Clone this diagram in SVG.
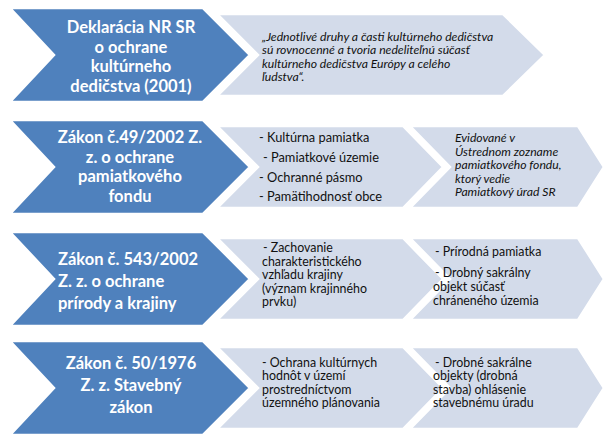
<svg xmlns="http://www.w3.org/2000/svg" width="605" height="435" viewBox="0 0 605 435">
<style>
.blue{fill:#4F81BD;stroke:#fff;stroke-width:2.5;stroke-linejoin:miter}
.light{fill:#D3DBEA;stroke:#fff;stroke-width:2.5;stroke-linejoin:miter}
.bt{font-family:Lato,"Liberation Sans",sans-serif;font-weight:bold;font-size:16.5px;fill:#fff}
.c{text-anchor:middle}
.t{font-family:Lato,"Liberation Sans",sans-serif;font-size:12.4px;fill:#111}
.t2{font-size:12.8px}
.i{font-style:italic;font-size:12.2px}
</style>
<rect width="605" height="435" fill="#fff"/>
<g id="row1">
  <g id="decl-detail">
    <path class="light" d="M217,14 L503,14 L545,55 L503,96 L217,96 L258,55 Z"/>
    <text class="t i"><tspan x="262" y="40.5">„Jednotlivé druhy a časti kultúrneho dedičstva</tspan><tspan x="262" y="54">sú rovnocenné a tvoria nedeliteľnú súčasť</tspan><tspan x="262" y="67.5">kultúrneho dedičstva Európy a celého</tspan><tspan x="262" y="81">ľudstva“.</tspan></text>
  </g>
  <g id="decl">
    <path class="blue" d="M10,8 L203,8 L250,55 L203,102 L10,102 L54,55 Z"/>
    <text class="bt c"><tspan x="131" y="33">Deklarácia NR SR</tspan><tspan x="131" y="52.5">o ochrane</tspan><tspan x="131" y="72">kultúrneho</tspan><tspan x="131" y="91.5">dedičstva (2001)</tspan></text>
  </g>
</g>
<g id="row2">
  <g id="z49-items">
    <path class="light" d="M217,126 L403,126 L443,167 L403,208 L217,208 L258,167 Z"/>
    <text class="t t2"><tspan x="259" y="142">- Kultúrna pamiatka</tspan><tspan x="263" y="162">- Pamiatkové územie</tspan><tspan x="259" y="182">- Ochranné pásmo</tspan><tspan x="259" y="201">- Pamätihodnosť obce</tspan></text>
  </g>
  <g id="z49-register">
    <path class="light" d="M410,126 L578,126 L604,167 L578,208 L410,208 L450,167 Z"/>
    <text class="t i"><tspan x="455" y="142">Evidované v</tspan><tspan x="455" y="155.5">Ústrednom zozname</tspan><tspan x="455" y="169">pamiatkového fondu,</tspan><tspan x="455" y="182.5">ktorý vedie</tspan><tspan x="455" y="196">Pamiatkový úrad SR</tspan></text>
  </g>
  <g id="z49">
    <path class="blue" d="M10,120 L203,120 L250,167 L203,214 L10,214 L54,167 Z"/>
    <text class="bt c"><tspan x="130" y="143">Zákon č.49/2002 Z.</tspan><tspan x="130" y="163">z. o ochrane</tspan><tspan x="130" y="182">pamiatkového</tspan><tspan x="130" y="202">fondu</tspan></text>
  </g>
</g>
<g id="row3">
  <g id="z543-landscape">
    <path class="light" d="M217,238 L403,238 L443,279 L403,320 L217,320 L258,279 Z"/>
    <text class="t"><tspan x="263" y="252">- Zachovanie</tspan><tspan x="262" y="265.5">charakteristického</tspan><tspan x="262" y="279">vzhľadu krajiny</tspan><tspan x="262" y="292.5">(význam krajinného</tspan><tspan x="262" y="306">prvku)</tspan></text>
  </g>
  <g id="z543-objects">
    <path class="light" d="M410,238 L578,238 L604,279 L578,320 L410,320 L450,279 Z"/>
    <text class="t"><tspan x="435" y="256">- Prírodná pamiatka</tspan><tspan x="435" y="277">- Drobný sakrálny</tspan><tspan x="433" y="291">objekt súčasť</tspan><tspan x="433" y="305">chráneného územia</tspan></text>
  </g>
  <g id="z543">
    <path class="blue" d="M10,232 L203,232 L250,279 L203,326 L10,326 L54,279 Z"/>
    <text class="bt"><tspan x="58" y="265">Zákon č. 543/2002</tspan><tspan x="58" y="287">Z. z. o ochrane</tspan><tspan x="58" y="309">prírody a krajiny</tspan></text>
  </g>
</g>
<g id="row4">
  <g id="z50-planning">
    <path class="light" d="M217,347 L403,347 L443,388 L403,429 L217,429 L258,388 Z"/>
    <text class="t"><tspan x="262" y="366.5">- Ochrana kultúrnych</tspan><tspan x="262" y="380">hodnôt v území</tspan><tspan x="262" y="393.5">prostredníctvom</tspan><tspan x="262" y="407">územného plánovania</tspan></text>
  </g>
  <g id="z50-notice">
    <path class="light" d="M410,347 L578,347 L604,388 L578,429 L410,429 L450,388 Z"/>
    <text class="t"><tspan x="435" y="366.5">- Drobné sakrálne</tspan><tspan x="433" y="380">objekty (drobná</tspan><tspan x="433" y="393.5">stavba) ohlásenie</tspan><tspan x="433" y="407">stavebnému úradu</tspan></text>
  </g>
  <g id="z50">
    <path class="blue" d="M10,341 L203,341 L250,388 L203,435 L10,435 L54,388 Z"/>
    <text class="bt c"><tspan x="131" y="369">Zákon č. 50/1976</tspan><tspan x="131" y="391">Z. z. Stavebný</tspan><tspan x="131" y="413">zákon</tspan></text>
  </g>
</g>
</svg>
